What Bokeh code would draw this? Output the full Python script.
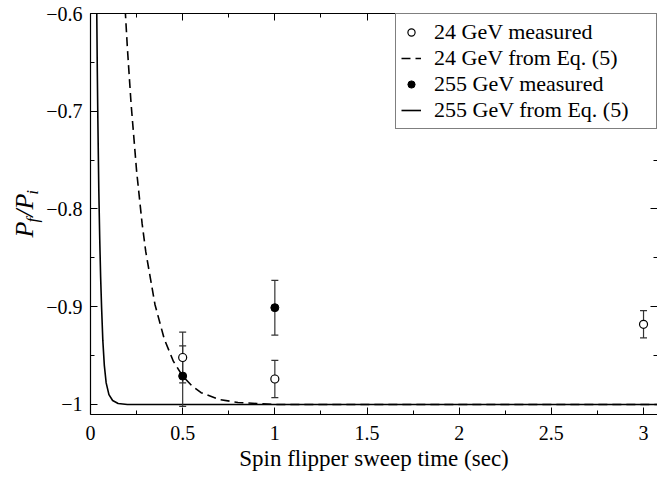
import numpy as np
from bokeh.plotting import figure
from bokeh.layouts import row
from bokeh.models import (Range1d, LinearAxis, FixedTicker, Whisker, ColumnDataSource,
                          Legend, LegendItem, CustomJSTickFormatter, TeeHead)
from bokeh.core.properties import value
from bokeh.embed import file_html
from bokeh.resources import INLINE

# ---------------- data ----------------
x_ticks = [0, 0.5, 1, 1.5, 2, 2.5, 3]
x_tick_labels = ["0", "0.5", "1", "1.5", "2", "2.5", "3"]
x_minor = [0.25, 0.75, 1.25, 1.75, 2.25, 2.75]
y_ticks = [-1.0, -0.9, -0.8, -0.7, -0.6]
y_tick_labels = ["\u22121", "\u22120.9", "\u22120.8", "\u22120.7", "\u22120.6"]
y_minor = [-0.95, -0.85, -0.75, -0.65]

t24_meas = [0.5, 1.0, 3.0]
p24_meas = [-0.952, -0.974, -0.918]
e24_meas = [0.026, 0.019, 0.014]

t255_meas = [0.5, 1.0]
p255_meas = [-0.971, -0.901]
e255_meas = [0.031, 0.028]

t24_eq = [0.18, 0.19, 0.20, 0.22, 0.25, 0.28, 0.30, 0.35, 0.40, 0.45, 0.50, 0.55,
          0.60, 0.70, 0.80, 0.90, 1.00, 1.20, 1.50, 2.00, 2.50, 3.00, 3.10]
p24_eq = [-0.567, -0.602, -0.635, -0.692, -0.761, -0.815, -0.844, -0.898, -0.933,
          -0.956, -0.971, -0.981, -0.988, -0.995, -0.998, -0.999, -1.0, -1.0, -1.0,
          -1.0, -1.0, -1.0, -1.0]

t255_eq = [0.030, 0.034, 0.037, 0.040, 0.045, 0.050, 0.055, 0.060, 0.067, 0.075,
           0.085, 0.100, 0.120, 0.150, 0.200, 0.300, 1.0, 2.0, 3.10]
p255_eq = [-0.50, -0.60, -0.66, -0.71, -0.78, -0.83, -0.87, -0.90, -0.935, -0.96,
           -0.978, -0.990, -0.996, -0.999, -1.0, -1.0, -1.0, -1.0, -1.0]

legend_labels = ["24 GeV measured", "24 GeV from Eq. (5)",
                 "255 GeV measured", "255 GeV from Eq. (5)"]
x_title = "Spin flipper sweep time (sec)"
y_title_parts = ["P", "f", "/", "P", "i"]     # P_f / P_i

# ---------------- main figure ----------------
FONT = "Liberation Serif"
X0, X1 = 0.0, 3.0758
Y0, Y1 = -1.0103, -0.6
H = 478
TOP, BOTTOM = 13, 64
LW = 43                      # width of the y-title panel

p = figure(width=657 - LW, height=H, x_range=Range1d(X0, X1), y_range=Range1d(Y0, Y1),
           output_backend="svg", toolbar_location=None,
           min_border_left=89 - LW, min_border_right=0, min_border_top=TOP,
           min_border_bottom=BOTTOM)
p.outline_line_color = None
p.grid.visible = False
p.background_fill_color = "white"
p.border_fill_color = "white"


def fmt(tick_vals, tick_labels):
    return CustomJSTickFormatter(args=dict(tv=tick_vals, tl=tick_labels), code="""
        for (let i = 0; i < tv.length; i++) {
            if (Math.abs(tv[i] - tick) < 1e-6) { return tl[i]; }
        }
        return "";
    """)


def style_axis(ax, tick_vals, minor, tick_labels=None):
    ax.ticker = FixedTicker(ticks=tick_vals, minor_ticks=minor)
    ax.major_tick_in = 7
    ax.major_tick_out = 0
    ax.minor_tick_in = 4
    ax.minor_tick_out = 0
    ax.major_tick_line_color = "black"
    ax.minor_tick_line_color = "black"
    ax.axis_line_color = "black"
    ax.axis_line_width = 1.2
    ax.major_label_text_font = FONT
    ax.major_label_text_font_size = "20px"
    ax.major_label_text_color = "black"
    if tick_labels is not None:
        ax.formatter = fmt(tick_vals, tick_labels)


xa = p.xaxis[0]
style_axis(xa, x_ticks, x_minor, x_tick_labels)
xa.major_label_standoff = 11
xa.axis_label = x_title
xa.axis_label_text_font = FONT
xa.axis_label_text_font_size = "23px"
xa.axis_label_text_font_style = "normal"
xa.axis_label_text_color = "black"
xa.axis_label_standoff = 3

ya = p.yaxis[0]
style_axis(ya, y_ticks, y_minor, y_tick_labels)
ya.major_label_standoff = 8

top = LinearAxis(major_label_standoff=0)
style_axis(top, x_ticks, x_minor)
top.formatter = CustomJSTickFormatter(code="return '';")
top.major_label_text_font_size = "1px"
p.add_layout(top, "above")

right = LinearAxis(major_label_standoff=0)
style_axis(right, y_ticks, y_minor)
right.formatter = CustomJSTickFormatter(code="return '';")
right.major_label_text_font_size = "1px"
right.axis_line_color = None
p.add_layout(right, "right")

# ---------------- curves & points ----------------
r_dash = p.line(t24_eq, p24_eq, line_color="black", line_width=1.6, line_dash="9 5")
r_solid = p.line(t255_eq, p255_eq, line_color="black", line_width=1.6)

for ts, ps, es in [(t24_meas, p24_meas, e24_meas), (t255_meas, p255_meas, e255_meas)]:
    src = ColumnDataSource(dict(x=ts, lo=[a - b for a, b in zip(ps, es)],
                                hi=[a + b for a, b in zip(ps, es)]))
    w = Whisker(source=src, base="x", lower="lo", upper="hi", dimension="height",
                line_color="#333333", line_width=1.2, level="glyph",
                upper_head=TeeHead(size=7, line_color="#333333", line_width=1.2),
                lower_head=TeeHead(size=7, line_color="#333333", line_width=1.2))
    p.add_layout(w)

r_open = p.scatter(t24_meas, p24_meas, marker="circle", size=8, fill_color="white",
                   line_color="black", line_width=1.2, level="overlay")
r_fill = p.scatter(t255_meas, p255_meas, marker="circle", size=8, fill_color="black",
                   line_color="black", level="overlay")

legend = Legend(items=[LegendItem(label=legend_labels[0], renderers=[r_open]),
                       LegendItem(label=legend_labels[1], renderers=[r_dash]),
                       LegendItem(label=legend_labels[2], renderers=[r_fill]),
                       LegendItem(label=legend_labels[3], renderers=[r_solid])],
                location="top_right", margin=0, padding=5, spacing=0,
                label_text_font=FONT, label_text_font_size="22px",
                label_text_color="black", label_height=18, glyph_height=18,
                glyph_width=20, label_standoff=13, label_width=217,
                border_line_color="black", border_line_width=1.2,
                background_fill_color="white", background_fill_alpha=1.0)
p.add_layout(legend)

# ---------------- y-axis title  P_f / P_i  (separate narrow panel) ----------------
lab = figure(width=LW, height=H, x_range=Range1d(0, LW), y_range=Range1d(BOTTOM, H - TOP),
             output_backend="svg", toolbar_location=None,
             x_axis_type=None, y_axis_type=None,
             min_border_left=0, min_border_right=0, min_border_top=TOP,
             min_border_bottom=BOTTOM)
lab.grid.visible = False
lab.outline_line_color = None
lab.background_fill_color = "white"
lab.border_fill_color = "white"

# pixel layout of the pieces (glyph-centre x, start y from the top, font size)
big_x, sub_x, start_y = 24, 32, 237
offsets = [0.0, 15.0, 20.7, 27.9, 42.8]
sizes = ["26px", "17px", "26px", "26px", "17px"]
xs = [big_x, sub_x, big_x, big_x, sub_x]
for txt, off, sz, xx in zip(y_title_parts, offsets, sizes, xs):
    lab.text(x=[xx], y=[H - (start_y - off)], text=[txt], angle=np.pi / 2,
             text_font=value(FONT), text_font_style="italic",
             text_font_size=value(sz), text_align="left",
             text_baseline="middle", text_color="black")

layout = row(lab, p)
open("out.html", "w").write(file_html(layout, INLINE))
